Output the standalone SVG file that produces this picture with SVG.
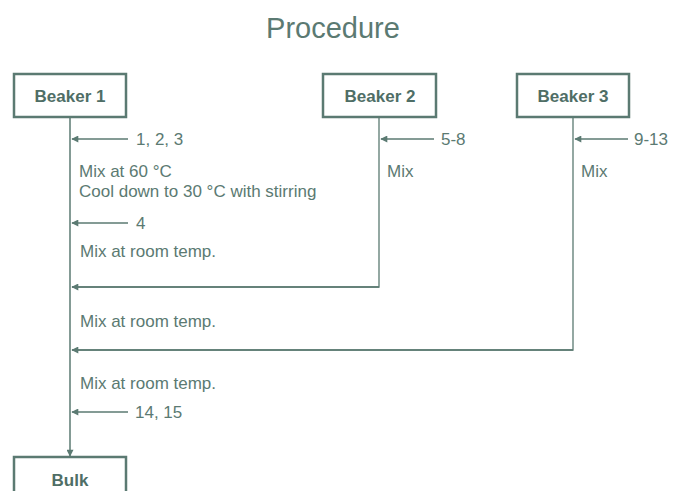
<svg xmlns="http://www.w3.org/2000/svg" width="687" height="491" viewBox="0 0 687 491">
<defs>
<marker id="ah" viewBox="0 0 10 10" refX="9" refY="5" markerWidth="8" markerHeight="7" markerUnits="userSpaceOnUse" orient="auto">
<path d="M0,0 L10,5 L0,10 z" fill="#5b7a72"/>
</marker>
<style>
.box{fill:#fff;stroke:#5b7a72;stroke-width:2.5}
.lbl{font-family:"Liberation Sans",Arial,sans-serif;font-size:17px;font-weight:bold;fill:#4f6e66;text-anchor:middle}
.t{font-family:"Liberation Sans",Arial,sans-serif;font-size:17px;fill:#5b7a72}
.ln{fill:none;stroke:#5b7a72;stroke-width:1.3}
.ar{fill:none;stroke:#5b7a72;stroke-width:1.5;marker-end:url(#ah)}
</style>
</defs>
<rect width="687" height="491" fill="#fff"/>
<text x="333" y="38" font-family="Liberation Sans,Arial,sans-serif" font-size="29" fill="#5b7a72" text-anchor="middle">Procedure</text>
<g id="connectors">
<path class="ar" d="M70,117 V456"/>
<path class="ln" d="M379,117 V287 H72"/>
<path class="ar" d="M379,287 H72"/>
<path class="ln" d="M573,117 V350 H72"/>
<path class="ar" d="M573,350 H72"/>
<path class="ar" d="M128,139 H72"/>
<path class="ar" d="M128,223 H72"/>
<path class="ar" d="M128,412 H72"/>
<path class="ar" d="M434,139 H381"/>
<path class="ar" d="M628,139 H575"/>
</g>
<g id="beaker1"><rect class="box" x="14" y="74" width="112" height="43"/><text class="lbl" x="70" y="102">Beaker 1</text></g>
<g id="beaker2"><rect class="box" x="323" y="74" width="113" height="43"/><text class="lbl" x="380" y="102">Beaker 2</text></g>
<g id="beaker3"><rect class="box" x="517" y="74" width="112" height="43"/><text class="lbl" x="573" y="102">Beaker 3</text></g>
<g id="bulk"><rect class="box" x="14" y="457" width="112" height="45"/><text class="lbl" x="70" y="486">Bulk</text></g>
<g id="labels">
<text class="t" x="136" y="145">1, 2, 3</text>
<text class="t" x="79" y="177">Mix at 60 °C</text>
<text class="t" x="79" y="197">Cool down to 30 °C with stirring</text>
<text class="t" x="136" y="229">4</text>
<text class="t" x="80" y="257">Mix at room temp.</text>
<text class="t" x="80" y="327">Mix at room temp.</text>
<text class="t" x="80" y="389">Mix at room temp.</text>
<text class="t" x="135" y="418">14, 15</text>
<text class="t" x="441" y="145">5-8</text>
<text class="t" x="387" y="177">Mix</text>
<text class="t" x="634" y="145">9-13</text>
<text class="t" x="581" y="177">Mix</text>
</g>
</svg>
